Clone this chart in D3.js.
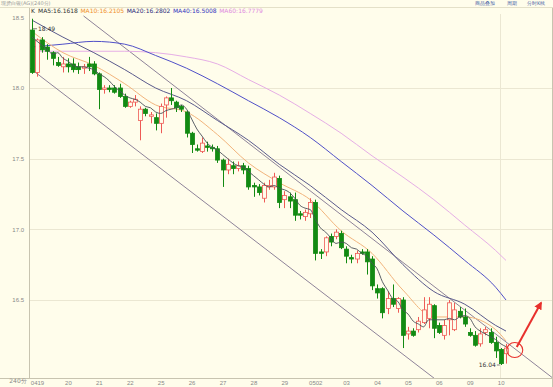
<!DOCTYPE html>
<html>
<head>
<meta charset="utf-8">
<script src="https://cdn.jsdelivr.net/npm/d3@7"></script>
<style>
body { margin: 0; background: #fffdeb; }
svg { display: block; }
</style>
</head>
<body>
<script>
// 现货白银 240 minute candles, 04-19 .. 05-10
var days = ['0419','20','21','22','25','26','27','28','29','0502','03','04','05','06','09','10'];
var dayIdx = [0,6,12,18,24,30,36,42,48,54,60,66,72,78,84,90];
var priceTicks = [18.5, 18.0, 17.5, 17.0, 16.5];

var opens = [18.41,18.11,18.34,18.29,18.25,18.18,18.15,18.17,18.17,18.15,18.14,18.17,18.17,18.10,17.99,18.00,18.00,18.00,17.94,17.87,
  17.90,17.77,17.85,17.80,17.79,17.75,17.88,17.93,17.90,17.87,17.83,17.68,17.57,17.55,17.59,17.58,17.57,17.49,17.42,17.45,
  17.43,17.45,17.43,17.31,17.30,17.22,17.30,17.30,17.36,17.21,17.23,17.21,17.11,17.09,17.11,17.19,16.84,16.84,16.95,16.95,
  16.97,16.86,16.80,16.79,16.84,16.84,16.79,16.58,16.58,16.44,16.51,16.44,16.50,16.26,16.28,16.29,16.34,16.37,16.46,16.32,
  16.25,16.36,16.29,16.42,16.38,16.27,16.25,16.19,16.27,16.27,16.20,16.15,16.12];
var highs = [18.49,18.35,18.36,18.31,18.26,18.22,18.22,18.21,18.21,18.18,18.17,18.22,18.19,18.11,18.02,18.02,18.02,18.03,17.96,17.91,
  17.95,17.87,17.86,17.83,17.82,17.89,17.94,18.00,17.91,17.88,17.84,17.69,17.60,17.65,17.62,17.60,17.59,17.50,17.50,17.48,
  17.48,17.47,17.45,17.33,17.32,17.33,17.35,17.40,17.38,17.27,17.26,17.26,17.13,17.14,17.22,17.21,16.86,16.95,16.97,17.00,
  16.99,16.88,16.82,16.85,16.86,16.86,16.81,16.61,16.59,16.56,16.61,16.52,16.52,16.31,16.30,16.38,16.52,16.52,16.47,16.34,
  16.36,16.50,16.48,16.45,16.44,16.30,16.28,16.30,16.31,16.30,16.24,16.16,16.19];
var lows = [18.10,18.08,18.25,18.20,18.16,18.15,18.11,18.11,18.11,18.10,18.10,18.12,18.09,17.85,17.96,17.97,17.96,17.93,17.86,17.86,
  17.87,17.63,17.80,17.75,17.70,17.68,17.79,17.88,17.83,17.83,17.65,17.54,17.55,17.54,17.55,17.55,17.47,17.30,17.39,17.39,
  17.41,17.39,17.28,17.23,17.24,17.19,17.28,17.28,17.15,17.15,17.15,17.06,17.07,17.06,17.08,16.78,16.79,16.81,16.88,16.93,
  16.86,16.76,16.76,16.76,16.82,16.68,16.57,16.51,16.37,16.40,16.45,16.41,16.16,16.22,16.24,16.27,16.33,16.30,16.23,16.26,
  16.22,16.25,16.28,16.37,16.31,16.24,16.17,16.17,16.25,16.19,16.09,16.04,16.05];
var closes = [18.11,18.34,18.27,18.26,18.21,18.16,18.17,18.15,18.13,18.13,18.15,18.15,18.10,17.99,18.00,17.99,17.97,17.94,17.87,17.90,
  17.92,17.85,17.82,17.81,17.75,17.87,17.93,17.91,17.86,17.85,17.68,17.60,17.56,17.61,17.58,17.57,17.49,17.42,17.46,17.43,
  17.45,17.42,17.30,17.30,17.26,17.31,17.31,17.37,17.19,17.24,17.20,17.10,17.10,17.12,17.19,16.83,16.83,16.94,16.91,16.98,
  16.87,16.81,16.79,16.83,16.83,16.77,16.60,16.55,16.41,16.51,16.47,16.51,16.25,16.28,16.25,16.35,16.43,16.47,16.30,16.27,
  16.32,16.48,16.43,16.38,16.33,16.25,16.18,16.26,16.29,16.20,16.14,16.05,16.16];

// moving averages
var ma5 = [18.36,18.33,18.30,18.27,18.24,18.25,18.21,18.19,18.16,18.15,18.15,18.14,18.13,18.10,18.08,18.05,18.01,17.98,17.95,17.93,
  17.92,17.90,17.87,17.86,17.83,17.82,17.84,17.85,17.86,17.88,17.85,17.78,17.71,17.66,17.61,17.58,17.56,17.53,17.50,17.47,
  17.45,17.44,17.41,17.38,17.35,17.32,17.30,17.31,17.29,17.28,17.26,17.22,17.17,17.15,17.14,17.07,17.01,16.98,16.94,16.90,
  16.91,16.90,16.87,16.86,16.83,16.81,16.76,16.72,16.63,16.57,16.51,16.49,16.43,16.40,16.35,16.33,16.31,16.36,16.36,16.36,
  16.36,16.37,16.36,16.38,16.39,16.37,16.31,16.28,16.26,16.24,16.22,16.19,16.17];
var maIdx = [0,6,12,18,24,30,36,42,48,54,60,66,72,78,84,90,92];
var ma10 = [18.40,18.25,18.16,18.03,17.88,17.83,17.67,17.47,17.33,17.21,16.99,16.83,16.57,16.38,16.38,16.29,16.21];
var ma20 = [18.48,18.36,18.25,18.13,18.00,17.91,17.77,17.63,17.46,17.31,17.14,16.98,16.75,16.56,16.47,16.32,16.28];
var ma40 = [18.29,18.31,18.33,18.31,18.23,18.14,18.03,17.91,17.79,17.65,17.48,17.31,17.13,16.96,16.78,16.59,16.50];
var ma60 = [18.26,18.26,18.26,18.26,18.25,18.22,18.17,18.06,17.95,17.82,17.68,17.52,17.37,17.21,17.03,16.85,16.78];

var legend = [
  {t: 'MA5:16.1618', c: '#333333'},
  {t: 'MA10:16.2105', c: '#f0902a'},
  {t: 'MA20:16.2802', c: '#2b2b7a'},
  {t: 'MA40:16.5008', c: '#3535c0'},
  {t: 'MA60:16.7779', c: '#e08ae0'}
];

// hand drawn channel (index, price)
var upperLine = [[10, 18.51], [101, 15.95]];
var lowerLine = [[-0.4, 18.14], [79, 15.92]];

var W = 553, H = 387;
var bg = '#fffdeb';
var up = '#ee5a55', down = '#128a12';

var svg = d3.select('body').append('svg')
  .attr('width', W).attr('height', H)
  .style('font-family', '"DejaVu Sans", Arial, sans-serif');

svg.append('rect').attr('width', W).attr('height', H).attr('fill', bg);

var x = d3.scaleLinear().domain([0, 92]).range([32, 506]);
var y = d3.scaleLinear().domain([16.5, 18.0]).range([300, 88]);

svg.append('clipPath').attr('id', 'plot')
  .append('rect').attr('x', 30).attr('y', 14).attr('width', 522).attr('height', 364);

// frame
svg.append('line').attr('x1', 0).attr('x2', W).attr('y1', 7.5).attr('y2', 7.5).attr('stroke', '#e4e0c8');
svg.append('line').attr('x1', 29.5).attr('x2', 29.5).attr('y1', 8).attr('y2', 378).attr('stroke', '#c8c4b0');
svg.append('line').attr('x1', 0).attr('x2', W).attr('y1', 378.5).attr('y2', 378.5).attr('stroke', '#c8c4b0');
svg.append('line').attr('x1', 552.5).attr('x2', 552.5).attr('y1', 8).attr('y2', H).attr('stroke', '#c8c4b0');

// grid
svg.append('g').selectAll('line').data(priceTicks.slice(1)).enter().append('line')
  .attr('x1', 30).attr('x2', 552)
  .attr('y1', d => Math.round(y(d)) + 0.5).attr('y2', d => Math.round(y(d)) + 0.5)
  .attr('stroke', '#ebe7d2');
svg.append('line').attr('x1', Math.round(x(90)) + 4.5).attr('x2', Math.round(x(90)) + 4.5)
  .attr('y1', 14).attr('y2', 378).attr('stroke', '#ebe7d2');

// y axis
var yAxis = d3.axisLeft(y).tickValues(priceTicks).tickSize(0).tickFormat(d3.format('.1f'));
var gy = svg.append('g').attr('transform', 'translate(27,0)').call(yAxis);
gy.select('.domain').remove();
gy.selectAll('text').attr('fill', '#888').style('font-size', '6px').attr('dx', 0);

// x axis
var xAxis = d3.axisBottom(x).tickValues(dayIdx).tickSize(0).tickFormat((d, i) => days[i]);
var gx = svg.append('g').attr('transform', 'translate(5,376)').call(xAxis);
gx.select('.domain').remove();
gx.selectAll('text').attr('fill', '#888').attr('dy', 6).style('font-size', '6px');
svg.append('text').attr('x', 18).attr('y', 383).attr('text-anchor', 'middle')
  .attr('fill', '#888').style('font-size', '6px').text('240分');

// header
svg.append('text').attr('x', 1).attr('y', 5).attr('fill', '#999').style('font-size', '5px').text('现货白银(AG)(240分)');
var lg = svg.append('g').attr('transform', 'translate(31,13)');
lg.append('text').attr('x', 0).attr('y', 0).attr('fill', '#333').style('font-size', '6px').text('K');
var lx = 7;
legend.forEach(function(d) {
  var t = lg.append('text').attr('x', lx).attr('y', 0).attr('fill', d.c).style('font-size', '6px').text(d.t);
  lx += t.node().getComputedTextLength() + 2.5;
});
svg.append('g').selectAll('text').data([['商品叠加', 475], ['周期', 507], ['分时K线', 527]]).enter()
  .append('text').attr('x', d => d[1]).attr('y', 5).attr('fill', '#4a64a8').style('font-size', '5px').text(d => d[0]);

var plot = svg.append('g').attr('clip-path', 'url(#plot)');

// channel lines
var lineXY = d3.line().x(d => x(d[0])).y(d => y(d[1]));
[upperLine, lowerLine].forEach(function(l) {
  plot.append('path').attr('d', lineXY(l)).attr('fill', 'none').attr('stroke', '#8e8399').attr('stroke-width', 1);
});

// moving averages
var maLine = d3.line().x(d => x(d[0])).y(d => y(d[1])).curve(d3.curveMonotoneX);
var mas = [
  {v: ma60, c: '#e6aee6'},
  {v: ma40, c: '#5050c8'},
  {v: ma20, c: '#5a5a8c'},
  {v: ma10, c: '#f2b47c'}
];
mas.forEach(function(m) {
  plot.append('path').attr('d', maLine(maIdx.map((k, i) => [k, m.v[i]])))
    .attr('fill', 'none').attr('stroke', m.c).attr('stroke-width', 1);
});

// candles
var bw = 4;
var candles = plot.append('g').selectAll('g').data(closes).enter().append('g');
candles.append('line')
  .attr('x1', (d, i) => Math.round(x(i)) + 0.5).attr('x2', (d, i) => Math.round(x(i)) + 0.5)
  .attr('y1', (d, i) => y(highs[i])).attr('y2', (d, i) => y(lows[i]))
  .attr('stroke', (d, i) => closes[i] >= opens[i] ? up : down);
candles.append('rect')
  .attr('x', (d, i) => Math.round(x(i)) + 0.5 - bw / 2)
  .attr('y', (d, i) => y(Math.max(opens[i], closes[i])))
  .attr('width', bw)
  .attr('height', (d, i) => Math.max(1, Math.abs(y(opens[i]) - y(closes[i]))))
  .attr('fill', (d, i) => closes[i] >= opens[i] ? bg : down)
  .attr('stroke', (d, i) => closes[i] >= opens[i] ? up : down)
  .attr('stroke-width', 0.8);

plot.append('path').attr('d', maLine(closes.map((d, i) => [i, ma5[i]])))
  .attr('fill', 'none').attr('stroke', '#4a4f58').attr('stroke-width', 0.9);

// extreme labels
var hiI = 0, loI = 91;
svg.append('line').attr('x1', x(hiI) + 1).attr('x2', x(hiI) + 5).attr('y1', y(highs[hiI]) + 10).attr('y2', y(highs[hiI]) + 10)
  .attr('stroke', '#333').attr('stroke-width', 0.6);
svg.append('text').attr('x', x(hiI) + 6).attr('y', y(highs[hiI]) + 12).attr('fill', '#333')
  .style('font-size', '6px').text(d3.format('.2f')(highs[hiI]));
svg.append('line').attr('x1', x(loI) - 4).attr('x2', x(loI) - 1).attr('y1', y(lows[loI])).attr('y2', y(lows[loI]))
  .attr('stroke', '#333').attr('stroke-width', 0.6);
svg.append('text').attr('x', x(loI) - 5).attr('y', y(lows[loI]) + 2).attr('text-anchor', 'end').attr('fill', '#333')
  .style('font-size', '6px').text(d3.format('.2f')(lows[loI]));

// breakout mark
var mark = {i: 93.7, p: 16.146};
var arrowEnd = {i: 98.8, p: 16.48};
svg.append('defs').append('marker').attr('id', 'ah').attr('viewBox', '0 0 10 10')
  .attr('refX', 8).attr('refY', 5).attr('markerWidth', 4).attr('markerHeight', 4).attr('orient', 'auto')
  .append('path').attr('d', 'M0,0 L10,5 L0,10 z').attr('fill', '#e8302c');
svg.append('ellipse').attr('cx', x(mark.i)).attr('cy', y(mark.p)).attr('rx', 8).attr('ry', 7.5)
  .attr('fill', 'none').attr('stroke', '#e8302c').attr('stroke-width', 1.1);
svg.append('line').attr('x1', x(mark.i) + 2).attr('y1', y(mark.p) - 3)
  .attr('x2', x(arrowEnd.i)).attr('y2', y(arrowEnd.p))
  .attr('stroke', '#e8302c').attr('stroke-width', 2).attr('marker-end', 'url(#ah)');
</script>
</body>
</html>
